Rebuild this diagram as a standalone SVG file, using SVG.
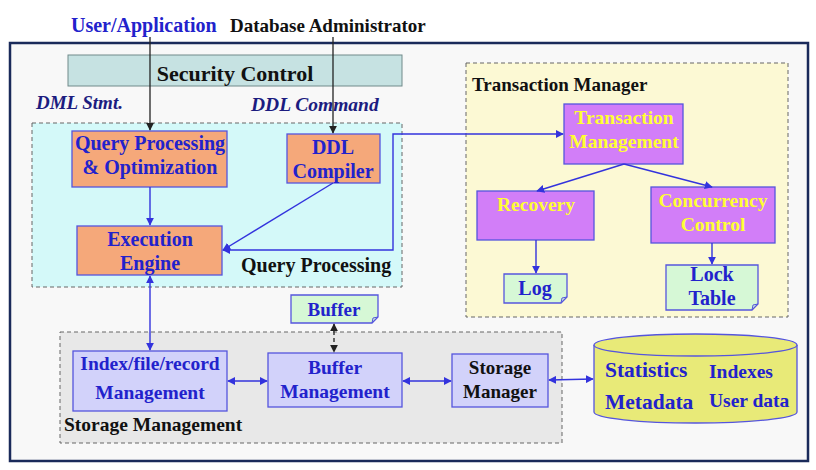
<svg xmlns="http://www.w3.org/2000/svg" width="816" height="470" viewBox="0 0 816 470">
<defs>
<style>
text{font-family:"Liberation Serif","Tinos","DejaVu Serif";font-weight:bold}
.b{fill:#2222cc}
.k{fill:#111}
.y{fill:#ffff33}
.it{font-style:italic;fill:#1c1c80}
.mid{text-anchor:middle}
.reg{stroke:#666;stroke-width:1;stroke-dasharray:4,3}
.orange{fill:#f5a87a;stroke:#5555dd;stroke-width:1.3}
.violet{fill:#d27ef8;stroke:#5555dd;stroke-width:1.3}
.lav{fill:#d2d2fa;stroke:#5555dd;stroke-width:1.3}
.note{fill:#d6f8d6;stroke:#5555dd;stroke-width:1.3}
.bl{stroke:#3333dd;stroke-width:1.4;fill:none}
.blk{stroke:#222;stroke-width:1.3;fill:none}
</style>
<marker id="ab" viewBox="0 0 10 10" refX="9" refY="5" markerWidth="8" markerHeight="8" orient="auto-start-reverse" markerUnits="userSpaceOnUse"><path d="M0,0 L10,5 L0,10 z" fill="#3333dd"/></marker>
<marker id="ak" viewBox="0 0 10 10" refX="9" refY="5" markerWidth="8" markerHeight="8" orient="auto-start-reverse" markerUnits="userSpaceOnUse"><path d="M0,0 L10,5 L0,10 z" fill="#222"/></marker>
</defs>

<rect x="0" y="0" width="816" height="470" fill="#ffffff"/>
<g id="frame"><rect x="10" y="43" width="798" height="418" fill="#f8f8f8" stroke="#1a2a5a" stroke-width="2.5"/></g>

<g id="actors">
<text x="71" y="32" class="b" font-size="20">User/Application</text>
<text x="230" y="32" class="k" font-size="19">Database Administrator</text>
</g>

<g id="security"><rect x="68" y="55" width="334" height="31" fill="#c6e2e2" stroke="#708a8a" stroke-width="1"/>
<text x="235" y="81" class="k mid" font-size="22">Security Control</text></g>

<g id="labels">
<text x="36" y="109" class="it" font-size="19">DML Stmt.</text>
<text x="251" y="111" class="it" font-size="19.5">DDL Command</text>
<text x="46" y="213" class="it" font-size="19">Query Plan</text>
</g>

<g id="qp-region"><rect x="32" y="123" width="370" height="164" fill="#d4f9f9" class="reg"/>
<text x="241" y="272" class="k" font-size="20">Query Processing</text></g>

<g id="qpo"><rect x="72" y="131" width="155" height="56" class="orange"/>
<text x="150" y="150" class="b mid" font-size="20">Query Processing</text>
<text x="150" y="174" class="b mid" font-size="20">&amp; Optimization</text></g>

<g id="ddl"><rect x="287" y="134" width="93" height="49" class="orange"/>
<text x="333" y="154" class="b mid" font-size="20">DDL</text>
<text x="333" y="178" class="b mid" font-size="20">Compiler</text></g>

<g id="exec"><rect x="77" y="226" width="145" height="49" class="orange"/>
<text x="150" y="246" class="b mid" font-size="20">Execution</text>
<text x="150" y="270" class="b mid" font-size="20">Engine</text></g>

<g id="tm-region"><rect x="466" y="63" width="322" height="254" fill="#fcf9d4" class="reg"/>
<text x="472" y="91" class="k" font-size="19">Transaction Manager</text></g>

<g id="tmgmt"><rect x="564" y="104" width="119" height="60" class="violet"/>
<text x="624" y="124" class="y mid" font-size="19.5">Transaction</text>
<text x="624" y="148" class="y mid" font-size="19.5">Management</text></g>

<g id="recovery"><rect x="477" y="191" width="117" height="49" class="violet"/>
<text x="536" y="211" class="y mid" font-size="19.5">Recovery</text></g>

<g id="cc"><rect x="651" y="187" width="124" height="56" class="violet"/>
<text x="713" y="207" class="y mid" font-size="19.5">Concurrency</text>
<text x="713" y="231" class="y mid" font-size="19.5">Control</text></g>

<g id="log"><path d="M504,274 H567 V297 L561,303 H504 Z" class="note"/><path d="M561,303 L562,298 L567,297" fill="none" stroke="#5555dd" stroke-width="1"/>
<text x="535" y="295" class="b mid" font-size="20">Log</text></g>

<g id="lock"><path d="M666,265 H758 V304 L752,310 H666 Z" class="note"/><path d="M752,310 L753,305 L758,304" fill="none" stroke="#5555dd" stroke-width="1"/>
<text x="712" y="281" class="b mid" font-size="20">Lock</text>
<text x="712" y="305" class="b mid" font-size="20">Table</text></g>

<g id="sm-region"><rect x="60" y="332" width="502" height="111" fill="#e8e8e8" class="reg"/>
<text x="64" y="431" class="k" font-size="19.5">Storage Management</text></g>

<g id="buffer"><path d="M291,295 H378 V317 L372,323 H291 Z" class="note"/><path d="M372,323 L373,318 L378,317" fill="none" stroke="#5555dd" stroke-width="1"/>
<text x="334" y="316" class="b mid" font-size="19">Buffer</text></g>

<g id="ifr"><rect x="73" y="351" width="154" height="60" class="lav"/>
<text x="150" y="370" class="b mid" font-size="19.5">Index/file/record</text>
<text x="150" y="399" class="b mid" font-size="19.5">Management</text></g>

<g id="bufmgmt"><rect x="268" y="353" width="134" height="54" class="lav"/>
<text x="335" y="374" class="b mid" font-size="19.5">Buffer</text>
<text x="335" y="398" class="b mid" font-size="19.5">Management</text></g>

<g id="stormgr"><rect x="452" y="354" width="96" height="53" class="lav"/>
<text x="500" y="374" class="k mid" font-size="19">Storage</text>
<text x="500" y="398" class="k mid" font-size="19">Manager</text></g>

<g id="db">
<path d="M594,345 V412 A101.5,11 0 0 0 797,412 V345" fill="#e8ea78" stroke="#5555dd" stroke-width="1.3"/>
<ellipse cx="695.5" cy="345" rx="101.5" ry="11" fill="#e8ea78" stroke="#5555dd" stroke-width="1.3"/>
<text x="605" y="377" class="b" font-size="21.5">Statistics</text>
<text x="709" y="378" class="b" font-size="19.5">Indexes</text>
<text x="605" y="409" class="b" font-size="21.5">Metadata</text>
<text x="709" y="407" class="b" font-size="19.5">User data</text>
</g>

<g id="connectors">
<line x1="150" y1="37" x2="150" y2="130" class="blk" marker-end="url(#ak)"/>
<line x1="333" y1="37" x2="333" y2="133" class="blk" marker-end="url(#ak)"/>
<line x1="150" y1="187" x2="150" y2="225" class="bl" marker-end="url(#ab)"/>
<line x1="333" y1="183" x2="223" y2="250" class="bl" marker-end="url(#ab)"/>
<polyline points="223,250 393,250 393,134 563,134" class="bl" marker-start="url(#ab)" marker-end="url(#ab)"/>
<line x1="624" y1="164" x2="537" y2="191" class="bl" marker-end="url(#ab)"/>
<line x1="624" y1="164" x2="712" y2="187" class="bl" marker-end="url(#ab)"/>
<line x1="536" y1="240" x2="536" y2="273" class="bl" marker-end="url(#ab)"/>
<line x1="712" y1="243" x2="712" y2="264" class="bl" marker-end="url(#ab)"/>
<line x1="150" y1="276" x2="150" y2="350" class="bl" marker-start="url(#ab)" marker-end="url(#ab)"/>
<line x1="334" y1="324" x2="334" y2="352" class="blk" stroke-dasharray="4,3" marker-start="url(#ak)" marker-end="url(#ak)"/>
<line x1="228" y1="381" x2="267" y2="381" class="bl" marker-start="url(#ab)" marker-end="url(#ab)"/>
<line x1="403" y1="381" x2="451" y2="381" class="bl" marker-start="url(#ab)" marker-end="url(#ab)"/>
<line x1="549" y1="380" x2="593" y2="379" class="bl" marker-start="url(#ab)" marker-end="url(#ab)"/>
</g>
</svg>
